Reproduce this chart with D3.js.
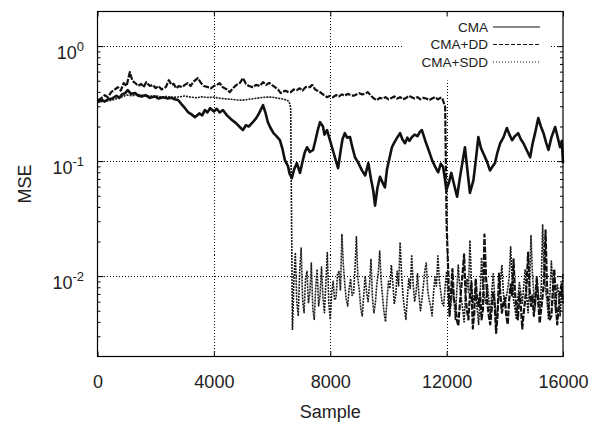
<!DOCTYPE html>
<html>
<head>
<meta charset="utf-8">
<script src="https://cdn.jsdelivr.net/npm/d3@7"></script>
<style>
  body { margin: 0; background: #fff; }
  svg { display: block; font-family: "Liberation Sans", Arial, sans-serif; }
</style>
</head>
<body>
<svg id="chart" width="607" height="426"></svg>
<script>
// ejes
const xTicks = [0, 4000, 8000, 12000, 16000];
const yMajor = [1, 0.1, 0.01];
const yExpLabels = ["0", "-1", "-2"];
const yMinor = [0.003, 0.004, 0.005, 0.006, 0.007, 0.008, 0.009,
  0.02, 0.03, 0.04, 0.05, 0.06, 0.07, 0.08, 0.09,
  0.2, 0.3, 0.4, 0.5, 0.6, 0.7, 0.8, 0.9];
const legendNames = ["CMA", "CMA+DD", "CMA+SDD"];

// CMA (linea continua): [muestra, mse]
const cmaPoints = [[0,0.326],[150,0.34],[250,0.33],[355,0.345],[500,0.35],[650,0.37],[750,0.355],[840,0.38],[950,0.39],[1040,0.414],
  [1150,0.385],[1300,0.39],[1400,0.37],[1520,0.365],[1650,0.375],[1800,0.355],[1970,0.365],[2100,0.35],[2250,0.36],[2420,0.35],
  [2550,0.355],[2650,0.345],[2770,0.34],[2900,0.31],[3000,0.29],[3110,0.267],[3230,0.255],[3350,0.241],[3500,0.26],[3600,0.25],
  [3690,0.278],[3780,0.265],[3870,0.289],[4000,0.27],[4100,0.285],[4200,0.265],[4310,0.278],[4450,0.25],[4600,0.23],[4750,0.215],
  [4890,0.198],[5000,0.186],[5100,0.205],[5200,0.2],[5340,0.218],[5450,0.235],[5550,0.26],[5690,0.307],[5780,0.26],[5850,0.22],
  [5930,0.198],[6050,0.175],[6150,0.165],[6270,0.152],[6350,0.13],[6440,0.102],[6550,0.09],[6600,0.078],[6680,0.071],[6760,0.085],
  [6850,0.096],[6900,0.088],[6960,0.079],[7050,0.1],[7120,0.118],[7200,0.132],[7300,0.12],[7410,0.125],[7500,0.155],[7580,0.19],
  [7650,0.218],[7750,0.2],[7800,0.17],[7890,0.186],[7980,0.155],[8060,0.132],[8150,0.11],[8270,0.087],[8350,0.12],[8420,0.155],
  [8500,0.175],[8580,0.16],[8680,0.162],[8750,0.135],[8850,0.108],[8950,0.098],[9090,0.083],[9200,0.075],[9310,0.096],[9400,0.07],
  [9480,0.055],[9540,0.041],[9620,0.058],[9710,0.073],[9800,0.065],[9880,0.059],[9950,0.085],[10050,0.11],[10120,0.132],[10200,0.145],
  [10300,0.16],[10400,0.175],[10480,0.155],[10570,0.143],[10650,0.16],[10720,0.15],[10810,0.162],[10900,0.17],[11000,0.165],[11080,0.18],
  [11150,0.186],[11200,0.17],[11260,0.152],[11380,0.125],[11500,0.102],[11600,0.09],[11710,0.08],[11800,0.095],[11880,0.089],[11940,0.07],
  [11990,0.056],[12080,0.065],[12160,0.079],[12260,0.062],[12360,0.049],[12450,0.07],[12550,0.1],[12630,0.132],[12700,0.09],[12800,0.053],
  [12860,0.06],[12920,0.068],[13000,0.1],[13090,0.162],[13180,0.13],[13260,0.117],[13380,0.1],[13490,0.083],[13580,0.09],[13660,0.096],
  [13750,0.12],[13840,0.143],[13950,0.16],[14070,0.194],[14160,0.17],[14250,0.152],[14350,0.165],[14460,0.175],[14550,0.155],[14640,0.143],
  [14750,0.125],[14870,0.108],[14950,0.14],[15040,0.175],[15150,0.237],[15240,0.2],[15330,0.175],[15420,0.145],[15500,0.125],[15600,0.16],
  [15730,0.198],[15820,0.16],[15900,0.132],[15960,0.15],[16000,0.096]];

// CMA+DD (discontinua): tramo alto hasta 12000
const ddPoints = [[0,0.339],[120,0.35],[250,0.375],[350,0.36],[480,0.4],[600,0.42],[700,0.44],[800,0.41],[900,0.477],[1000,0.45],
  [1110,0.594],[1200,0.5],[1300,0.477],[1400,0.45],[1500,0.47],[1580,0.44],[1680,0.486],[1800,0.45],[1900,0.46],[2000,0.431],
  [2100,0.45],[2200,0.42],[2350,0.44],[2450,0.506],[2550,0.46],[2620,0.47],[2700,0.431],[2800,0.45],[2900,0.44],[3000,0.46],
  [3100,0.477],[3200,0.45],[3300,0.49],[3450,0.527],[3550,0.48],[3650,0.45],[3800,0.44],[3900,0.43],[4000,0.45],[4100,0.46],
  [4200,0.477],[4300,0.44],[4450,0.42],[4550,0.398],[4650,0.43],[4780,0.46],[4900,0.48],[5000,0.527],[5100,0.47],[5200,0.45],
  [5340,0.44],[5450,0.46],[5580,0.45],[5690,0.486],[5800,0.46],[5900,0.48],[6000,0.458],[6100,0.44],[6200,0.42],[6300,0.39],
  [6450,0.41],[6550,0.4],[6640,0.398],[6750,0.42],[6850,0.414],[6950,0.43],[7050,0.41],[7150,0.44],[7300,0.44],[7380,0.46],
  [7480,0.42],[7560,0.41],[7650,0.398],[7750,0.38],[7890,0.36],[8000,0.37],[8100,0.36],[8200,0.375],[8300,0.365],[8400,0.38],
  [8500,0.37],[8600,0.385],[8700,0.375],[8800,0.37],[8900,0.38],[9000,0.39],[9100,0.38],[9200,0.385],[9290,0.398],[9400,0.37],
  [9500,0.35],[9600,0.339],[9700,0.355],[9800,0.35],[9900,0.36],[10000,0.345],[10100,0.353],[10200,0.365],[10300,0.35],[10400,0.36],
  [10500,0.345],[10600,0.353],[10700,0.37],[10800,0.36],[10900,0.35],[11000,0.36],[11100,0.345],[11200,0.355],[11300,0.35],[11400,0.339],
  [11500,0.35],[11600,0.36],[11700,0.345],[11800,0.355],[11850,0.353],[11950,0.295]];
// CMA+DD despues de la caida, cada 50 muestras desde 12000
const ddLowMse = [0.028, 0.012, 0.0045, 0.0072, 0.0115, 0.0062, 0.0058, 0.0042, 0.0037, 0.0055,
  0.0078, 0.0105, 0.0155, 0.0068, 0.005, 0.0042, 0.0068, 0.0088, 0.0035, 0.0048,
  0.0095, 0.0062, 0.0055, 0.0072, 0.0042, 0.0052, 0.023, 0.0105, 0.0058, 0.0045,
  0.0038, 0.0052, 0.0072, 0.0058, 0.0032, 0.0045, 0.0105, 0.0068, 0.0048, 0.0058,
  0.0065, 0.0045, 0.0038, 0.0062, 0.0085, 0.0068, 0.014, 0.0072, 0.0052, 0.0042,
  0.0072, 0.0055, 0.0035, 0.0048, 0.0062, 0.0085, 0.016, 0.0078, 0.0055, 0.0068,
  0.0045, 0.0065, 0.0098, 0.0058, 0.0039, 0.0052, 0.0068, 0.0092, 0.025, 0.0082,
  0.0055, 0.0042, 0.0045, 0.0075, 0.0115, 0.0062, 0.0038, 0.0052, 0.0072, 0.0085,
  0.0058];

// CMA+SDD (punteada): cae cerca de 6650
const sddPoints = [[0,0.326],[200,0.33],[400,0.335],[600,0.345],[800,0.36],[1000,0.375],[1200,0.37],[1400,0.38],[1600,0.372],[1800,0.368],
  [2000,0.368],[2200,0.362],[2400,0.365],[2600,0.358],[2800,0.362],[3000,0.368],[3200,0.36],[3400,0.356],[3600,0.362],[3800,0.358],
  [4000,0.36],[4200,0.352],[4400,0.348],[4600,0.345],[4800,0.34],[5000,0.339],[5200,0.345],[5400,0.35],[5600,0.356],[5800,0.36],
  [6000,0.36],[6200,0.352],[6400,0.346],[6550,0.335],[6600,0.32],[6640,0.29]];
// CMA+SDD despues de la caida, cada 50 muestras desde 6700
const sddLowMse = [0.0034, 0.009, 0.016, 0.006, 0.0045, 0.011, 0.0175, 0.0062, 0.0048, 0.0095,
  0.011, 0.0058, 0.0072, 0.013, 0.0052, 0.0042, 0.008, 0.0115, 0.0055, 0.0068,
  0.012, 0.0065, 0.0048, 0.0088, 0.016, 0.0058, 0.0042, 0.0072, 0.009, 0.0062,
  0.0065, 0.0105, 0.011, 0.0075, 0.023, 0.0125, 0.0085, 0.0062, 0.0055, 0.0078,
  0.0095, 0.0068, 0.007, 0.0115, 0.022, 0.0095, 0.0075, 0.0052, 0.0045, 0.0068,
  0.01, 0.0072, 0.006, 0.0085, 0.014, 0.0065, 0.0048, 0.0058, 0.0085, 0.0105,
  0.0165, 0.0092, 0.0065, 0.0048, 0.004, 0.0062, 0.009, 0.0078, 0.0125, 0.0088,
  0.0058, 0.0068, 0.011, 0.0082, 0.0197, 0.0105, 0.0068, 0.0052, 0.0042, 0.0065,
  0.0095, 0.0078, 0.015, 0.0085, 0.006, 0.0072, 0.0105, 0.0068, 0.005, 0.0062,
  0.0082, 0.0112, 0.013, 0.0075, 0.0062, 0.0055, 0.0045, 0.0072, 0.0098, 0.0082,
  0.015, 0.0092, 0.0072, 0.0058, 0.0055, 0.0082, 0.011, 0.0065, 0.0048, 0.0058,
  0.0085, 0.0062, 0.0042, 0.0075, 0.0125, 0.0082, 0.0065, 0.0052, 0.004, 0.0068,
  0.0095, 0.0072, 0.0205, 0.0092, 0.0058, 0.0068, 0.0075, 0.0052, 0.0038, 0.0065,
  0.0145, 0.0082, 0.0065, 0.0058, 0.0085, 0.0062, 0.0045, 0.0072, 0.0105, 0.0068,
  0.0035, 0.0052, 0.0068, 0.0092, 0.0125, 0.0072, 0.0055, 0.0065, 0.0078, 0.0098,
  0.018, 0.0095, 0.0062, 0.0052, 0.0042, 0.0065, 0.0088, 0.0072, 0.0058, 0.0082,
  0.0115, 0.0068, 0.0048, 0.0085, 0.0225, 0.0105, 0.0068, 0.0055, 0.0095, 0.0072,
  0.005, 0.0078, 0.028, 0.0115, 0.0075, 0.0062, 0.0042, 0.0068, 0.0135, 0.0085,
  0.0062, 0.0048, 0.0085, 0.0072, 0.0045, 0.0068, 0.0105];

const plotLeft = 97.5, plotRight = 563, plotTop = 11.5, plotBottom = 356.5;
const svg = d3.select("#chart");
const x = d3.scaleLinear().domain([0, 16000]).range([plotLeft, plotRight]);
const y = d3.scaleLog().domain([0.002, 2]).range([plotBottom, plotTop]);

// pares (muestra, mse) de los tramos bajos
const ddLowSample = d3.range(12000, 16001, 50);
const ddLow = ddLowSample.map((s, i) => [s, ddLowMse[i]]);
const sddLowSample = d3.range(6700, 16001, 50);
const sddLow = sddLowSample.map((s, i) => [s, sddLowMse[i]]);

// rejilla punteada
const grid = svg.append("g").attr("stroke", "#000").attr("stroke-width", 1)
  .attr("stroke-dasharray", "1,2").attr("shape-rendering", "crispEdges");
grid.selectAll(".gx").data(xTicks.slice(1, -1)).join("line")
  .attr("x1", d => Math.round(x(d)) + 0.5).attr("x2", d => Math.round(x(d)) + 0.5)
  .attr("y1", plotTop).attr("y2", plotBottom);
grid.selectAll(".gy").data(yMajor).join("line")
  .attr("x1", plotLeft).attr("x2", plotRight)
  .attr("y1", d => Math.round(y(d)) + 0.5).attr("y2", d => Math.round(y(d)) + 0.5);

// caja de la leyenda (opaca)
svg.append("rect").attr("x", 404).attr("y", plotTop + 1).attr("width", 145).attr("height", 68)
  .attr("fill", "#fff");

const line = d3.line().x(d => x(d[0])).y(d => y(d[1]));
const series = [
  { data: sddPoints.concat(sddLow), dash: "2,1", w: 1.6, c: "#1a1a1a" },
  { data: ddPoints.concat(ddLow), dash: "6,1.5", w: 2.2, c: "#111" },
  { data: cmaPoints, dash: null, w: 2.6, c: "#111" }
];
svg.append("g").selectAll("path").data(series).join("path")
  .attr("d", d => line(d.data))
  .attr("fill", "none")
  .attr("stroke", d => d.c)
  .attr("stroke-width", d => d.w)
  .attr("stroke-dasharray", d => d.dash)
  .attr("stroke-linejoin", "round");

// marco
svg.append("rect").attr("x", plotLeft).attr("y", plotTop).attr("width", plotRight - plotLeft)
  .attr("height", plotBottom - plotTop).attr("fill", "none").attr("stroke", "#000")
  .attr("stroke-width", 1.2);

// ticks hacia dentro
function noDomain(g) { g.select(".domain").remove(); }
svg.append("g").attr("transform", `translate(0,${plotBottom})`)
  .call(d3.axisBottom(x).tickValues(xTicks).tickSize(-5).tickPadding(19).tickFormat(d => d))
  .call(noDomain)
  .call(g => g.selectAll("text").attr("font-size", 18).attr("fill", "#222")
    .attr("font-family", "Liberation Sans, Arial, sans-serif"));
svg.append("g").attr("transform", `translate(0,${plotTop})`)
  .call(d3.axisTop(x).tickValues(xTicks).tickSize(-5).tickFormat(""))
  .call(noDomain);
svg.append("g").attr("transform", `translate(${plotLeft},0)`)
  .call(d3.axisLeft(y).tickValues(yMajor).tickSize(-6).tickFormat(""))
  .call(noDomain);
svg.append("g").attr("transform", `translate(${plotLeft},0)`)
  .call(d3.axisLeft(y).tickValues(yMinor).tickSize(-3).tickFormat(""))
  .call(noDomain);
svg.append("g").attr("transform", `translate(${plotRight},0)`)
  .call(d3.axisRight(y).tickValues(yMajor).tickSize(-6).tickFormat(""))
  .call(noDomain);
svg.append("g").attr("transform", `translate(${plotRight},0)`)
  .call(d3.axisRight(y).tickValues(yMinor).tickSize(-3).tickFormat(""))
  .call(noDomain);

// etiquetas 10^n
const ylab = svg.append("g").selectAll("text").data(yMajor).join("text")
  .attr("x", 84).attr("y", d => y(d) + 13)
  .attr("text-anchor", "end").attr("fill", "#222");
ylab.append("tspan").attr("font-size", 18).text("10");
ylab.append("tspan").attr("font-size", 13).attr("dy", -8).text((d, i) => yExpLabels[i]);

// titulos de ejes
svg.append("text").attr("x", (plotLeft + plotRight) / 2).attr("y", 418)
  .attr("text-anchor", "middle").attr("font-size", 18).attr("fill", "#222").text("Sample");
svg.append("text").attr("transform", `translate(31,${(plotTop + plotBottom) / 2}) rotate(-90)`)
  .attr("text-anchor", "middle").attr("font-size", 18).attr("fill", "#222").text("MSE");

// leyenda
const legendStyles = [null, "4,2", "1,2"];
const leg = svg.append("g").selectAll("g").data(legendNames).join("g")
  .attr("transform", (d, i) => `translate(0,${27 + i * 17.5})`);
leg.append("text").attr("x", 488).attr("y", 4.8).attr("text-anchor", "end")
  .attr("font-size", 13.5).attr("fill", "#222").text(d => d);
leg.append("line").attr("x1", 493).attr("x2", 540).attr("y1", 0).attr("y2", 0)
  .attr("stroke", "#111").attr("stroke-width", 1.1)
  .attr("stroke-dasharray", (d, i) => legendStyles[i]);
</script>
</body>
</html>
